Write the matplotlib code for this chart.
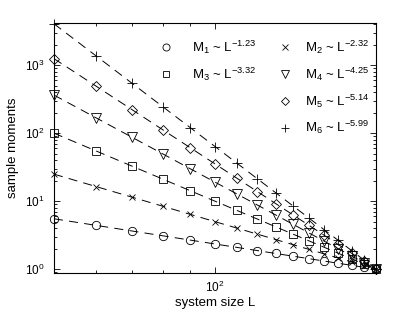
import numpy as np
import matplotlib
matplotlib.use('Agg')
import matplotlib.pyplot as plt
from matplotlib.ticker import LogLocator, NullFormatter, FixedLocator

plt.rcParams['font.family'] = ['Liberation Sans', 'DejaVu Sans']
plt.rcParams['mathtext.fontset'] = 'custom'
plt.rcParams['mathtext.rm'] = 'Liberation Sans'
plt.rcParams['mathtext.it'] = 'Liberation Sans:italic'
plt.rcParams['lines.scale_dashes'] = False

# system sizes
L = [50, 60, 70, 80, 90, 100, 110, 120, 130, 140, 150, 160, 170, 180, 190, 200]

# sample moments
m1 = [5.5, 4.4, 3.65, 3.1, 2.67, 2.35, 2.09, 1.87, 1.7, 1.55, 1.43, 1.32, 1.22, 1.14, 1.07, 1.0]
m2 = [24.9, 16.3, 11.4, 8.4, 6.4, 5.0, 4.0, 3.27, 2.72, 2.29, 1.95, 1.68, 1.46, 1.28, 1.13, 1.0]
m3 = [99.5, 54.5, 32.7, 20.9, 14.2, 10.0, 7.3, 5.46, 4.18, 3.27, 2.6, 2.1, 1.71, 1.42, 1.19, 1.0]
m4 = [362, 167, 86.7, 49.2, 29.9, 19.0, 12.7, 8.8, 6.24, 4.56, 3.4, 2.58, 2.0, 1.57, 1.24, 1.0]
m5 = [1240, 488, 221, 111, 60.8, 35.2, 21.7, 13.8, 9.14, 6.27, 4.4, 3.15, 2.31, 1.72, 1.3, 1.0]
m6 = [4040, 1358, 538, 242, 120, 63.5, 36.1, 21.4, 13.2, 8.47, 5.61, 3.81, 2.65, 1.88, 1.36, 1.0]

# fitted exponents (from legend) and fit amplitude at L = 200
alphas = [1.23, 2.32, 3.32, 4.25, 5.14, 5.99]
amps = [1.0, 1.0, 1.0, 1.0, 1.0, 1.0]
L_ref = 200

moments = [m1, m2, m3, m4, m5, m6]
markers = ['o', 'x', 's', 'v', 'D', '+']
msizes = [6, 5, 5.5, 6.5, 5, 6.5]

fig = plt.figure(figsize=(4.15, 3.15), dpi=100)
ax = fig.add_axes([0.130, 0.133, 0.776, 0.794])

Lfit = np.array([L[0], L[-1]], dtype=float)
handles = []
for i, (m, a, A) in enumerate(zip(moments, alphas, amps)):
    ax.plot(Lfit, A * (Lfit / L_ref) ** (-a), color='black', lw=0.7,
            dashes=(6.5, 4.5))
    h, = ax.plot(L, m, linestyle='none', marker=markers[i], ms=msizes[i],
                 mfc='none', mec='black', mew=0.6, clip_on=False)
    handles.append(h)

ax.set_xscale('log')
ax.set_yscale('log')
ax.set_xlim(50, 200)
ax.set_ylim(0.875, 4150)

ax.xaxis.set_major_locator(FixedLocator([100]))
ax.xaxis.set_minor_locator(FixedLocator([50, 60, 70, 80, 90, 200]))
ax.xaxis.set_minor_formatter(NullFormatter())
ax.yaxis.set_major_locator(LogLocator(base=10, numticks=10))
ax.yaxis.set_minor_locator(LogLocator(base=10, subs=np.arange(2, 10), numticks=20))
ax.yaxis.set_minor_formatter(NullFormatter())

ax.tick_params(which='both', direction='in', top=True, right=True, labelsize=8.5,
               width=0.6)
ax.tick_params(which='major', length=4)
ax.tick_params(which='minor', length=2)
ax.tick_params(axis='y', which='major', pad=7)
ax.tick_params(axis='x', which='major', pad=5)
for s in ax.spines.values():
    s.set_linewidth(0.8)

ax.set_xlabel('system size L', fontsize=9.5, labelpad=1)
ax.set_ylabel('sample moments', fontsize=9.5, labelpad=4)

labels = [r'M$_{%d}$ ~ L$^{-%.2f}$' % (i + 1, a) for i, a in enumerate(alphas)]
leg_kw = dict(loc='upper left', frameon=False, fontsize=9.5, handlelength=1.2,
              borderaxespad=0, borderpad=0, labelspacing=0.72, markerscale=0.85)
leg1 = ax.legend([handles[0], handles[2]], [labels[0], labels[2]],
                 bbox_to_anchor=(0.323, 0.937), handletextpad=1.37, **leg_kw)
ax.add_artist(leg1)
ax.legend([handles[1], handles[3], handles[4], handles[5]],
          [labels[1], labels[3], labels[4], labels[5]],
          bbox_to_anchor=(0.693, 0.937), handletextpad=0.92, **leg_kw)

plt.savefig('out.png', dpi=100)
plt.close()
